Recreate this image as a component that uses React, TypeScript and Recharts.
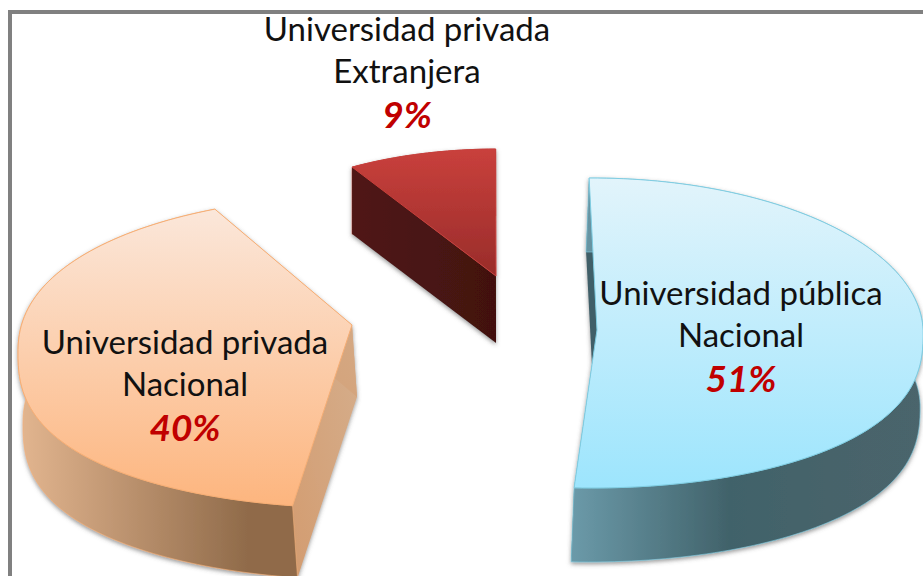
import { PieChart, Pie } from "recharts"

const categories = [
  "Universidad pública Nacional",
  "Universidad privada Nacional",
  "Universidad privada Extranjera",
]
const values = [51, 40, 9]

const pieData = categories.map((name, i) => ({ name, value: values[i] }))

// exploded 3D look, recharts only gives the angles and the base radius
const sliceLooks = [
  {
    apexX: 127, apexY: 0, ellipseX: -5, ellipseY: 3, scaleX: 0.974, ry: 155, turn: 0, fullTop: 1, fullBottom: 0.8,
    leanX: -3, depth: 74, wallFirst: false, top: "topBlue", wall: "wallBlue", cut: "#3f5f68", edge: "#7fcde2",
    labelX: 741, labelY: 305,
  },
  {
    apexX: -118, apexY: -5, ellipseX: 6, ellipseY: 27, scaleX: 1, ry: 156, turn: 8, fullTop: 0.9, fullBottom: 0.78,
    leanX: 5, depth: 72, wallFirst: false, top: "topOrange", wall: "wallOrange", cut: "url(#cutOrange)", edge: "#f7ae74",
    labelX: 185, labelY: 354,
  },
  {
    apexX: 26, apexY: -54, ellipseX: 2, ellipseY: -14, scaleX: 0.79, ry: 113, turn: 0, fullTop: 1, fullBottom: 1,
    leanX: 0, depth: 67, wallFirst: true, top: "topRed", wall: "wallRed", cut: "url(#cutRed)", edge: "#c8403c",
    labelX: 407, labelY: 41,
  },
]

const textFont = "Lato, 'Open Sans', sans-serif"

const Slice3D = (props: any) => {
  const look = sliceLooks[categories.indexOf(props.name)]
  const ax = props.cx + look.apexX
  const ay = props.cy + look.apexY
  const ex = ax + look.ellipseX
  const ey = ay + look.ellipseY
  const rx = props.outerRadius * look.scaleX
  const ry = look.ry

  // rim of the slice, a bit fuller than a true ellipse like the original
  const rim: number[][] = []
  const steps = Math.ceil(Math.abs(props.startAngle - props.endAngle) / 1.5)
  for (let s = 0; s <= steps; s++) {
    const angle = props.startAngle + ((props.endAngle - props.startAngle) * s) / steps
    const t = ((90 - angle + look.turn) * Math.PI) / 180
    const c = Math.cos(t)
    const bend = c > 0 ? Math.pow(c, look.fullTop) : -Math.pow(-c, look.fullBottom)
    rim.push([ex + rx * Math.sin(t), ey - ry * bend])
  }
  const [x1, y1] = rim[0]
  const [x2, y2] = rim[rim.length - 1]
  const dx = look.leanX
  const dy = look.depth
  const rimLine = rim.map((p) => `${p[0]},${p[1]}`).join(" L")
  const rimBack = [...rim]
    .reverse()
    .map((p) => `${p[0] + dx},${p[1] + dy}`)
    .join(" L")

  const topPath = `M${ax},${ay} L${rimLine} Z`
  const wallPath = `M${rimLine} L${rimBack} Z`
  const cutA = `M${x1},${y1} L${ax},${ay} L${ax + dx},${ay + dy} L${x1 + dx},${y1 + dy} Z`
  const cutB = `M${x2},${y2} L${ax},${ay} L${ax + dx},${ay + dy} L${x2 + dx},${y2 + dy} Z`

  const wall = <path d={wallPath} fill={`url(#${look.wall})`} stroke={look.edge} strokeWidth={0.6} />
  return (
    <g filter="url(#softShadow)">
      {look.wallFirst && wall}
      <path d={cutA} fill={look.cut} />
      <path d={cutB} fill={look.cut} />
      {!look.wallFirst && wall}
      <path d={topPath} fill={`url(#${look.top})`} stroke={look.edge} strokeWidth={1} />
    </g>
  )
}

const SliceLabel = (props: any) => {
  const i = categories.indexOf(props.name)
  const look = sliceLooks[i]
  const words = categories[i].split(" ")
  const last = words.pop()
  return (
    <text textAnchor="middle" fontFamily={textFont} fontSize={33} fill="#111111">
      <tspan x={look.labelX} y={look.labelY}>{words.join(" ")}</tspan>
      <tspan x={look.labelX} y={look.labelY + 42}>{last}</tspan>
      <tspan
        x={look.labelX}
        y={look.labelY + 87}
        fontSize={37}
        fill="#c00000"
        fontWeight={700}
        fontStyle="italic"
      >
        {values[i]}%
      </tspan>
    </text>
  )
}

export default function App() {
  return (
    <div
      style={{
        position: "absolute",
        left: 0,
        top: 0,
        width: 923,
        height: 576,
        overflow: "hidden",
        background: "#ffffff",
      }}
    >
      <div
        style={{
          position: "absolute",
          left: 8,
          top: 10,
          width: 1000,
          height: 700,
          border: "4px solid #808080",
        }}
      />
      <div style={{ position: "absolute", left: 0, top: 0 }}>
        <PieChart width={923} height={576} margin={{ top: 0, right: 0, bottom: 0, left: 0 }}>
          <defs>
            <linearGradient id="topBlue" x1="0" y1="0" x2="0" y2="1">
              <stop offset="0%" stopColor="#e2f4fb" />
              <stop offset="100%" stopColor="#9de5fd" />
            </linearGradient>
            <linearGradient id="wallBlue" x1="0" y1="0" x2="1" y2="0">
              <stop offset="0%" stopColor="#6b9aa9" />
              <stop offset="45%" stopColor="#41626a" />
              <stop offset="100%" stopColor="#4b656c" />
            </linearGradient>
            <linearGradient id="topOrange" x1="0" y1="0" x2="0" y2="1">
              <stop offset="0%" stopColor="#fbe7da" />
              <stop offset="100%" stopColor="#fdb57e" />
            </linearGradient>
            <linearGradient id="wallOrange" x1="0" y1="0" x2="1" y2="0">
              <stop offset="0%" stopColor="#e3b690" />
              <stop offset="82%" stopColor="#906b4a" />
              <stop offset="100%" stopColor="#906b4a" />
            </linearGradient>
            <linearGradient id="cutOrange" x1="0" y1="1" x2="1" y2="0">
              <stop offset="0%" stopColor="#d39c70" />
              <stop offset="100%" stopColor="#d5ae8c" />
            </linearGradient>
            <linearGradient id="topRed" x1="0" y1="0" x2="0" y2="1">
              <stop offset="0%" stopColor="#c9403c" />
              <stop offset="100%" stopColor="#992c2a" />
            </linearGradient>
            <linearGradient id="wallRed" x1="0" y1="0" x2="1" y2="0">
              <stop offset="0%" stopColor="#501715" />
              <stop offset="100%" stopColor="#421110" />
            </linearGradient>
            <linearGradient id="cutRed" x1="0" y1="0" x2="1" y2="0">
              <stop offset="0%" stopColor="#501715" />
              <stop offset="100%" stopColor="#421110" />
            </linearGradient>
            <filter id="softShadow" x="-10%" y="-10%" width="120%" height="125%">
              <feDropShadow dx="0" dy="2" stdDeviation="2" floodColor="#555555" floodOpacity="0.6" />
            </filter>
          </defs>
          <Pie
            data={pieData}
            dataKey="value"
            nameKey="name"
            cx={470}
            cy={330}
            innerRadius={0}
            outerRadius={340}
            startAngle={90.5}
            endAngle={-269.5}
            stroke="none"
            shape={Slice3D}
            label={SliceLabel}
            labelLine={false}
            isAnimationActive={false}
          />
        </PieChart>
      </div>
    </div>
  )
}
